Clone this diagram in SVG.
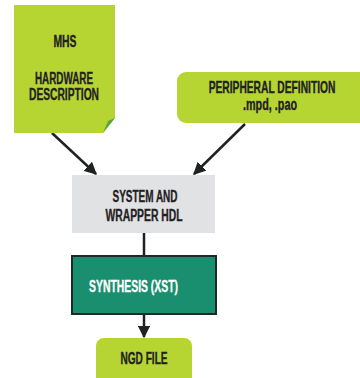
<svg xmlns="http://www.w3.org/2000/svg" width="360" height="378" viewBox="0 0 360 378">
<defs>
<style>
.t{font-family:"Liberation Sans","DejaVu Sans",sans-serif;font-weight:bold;font-size:16px;fill:#1f2122;stroke:#1f2122;stroke-width:0.35;text-anchor:middle}
.w{fill:#ffffff;stroke:#ffffff}
.c{stroke:#1f2122;stroke-width:2.5;fill:none}
</style>
<marker id="ah" viewBox="0 0 10 10" refX="9" refY="5" markerWidth="5" markerHeight="5" orient="auto" markerUnits="strokeWidth">
<path d="M0,0 L10,5 L0,10 z" fill="#1f2122"/>
</marker>
</defs>
<rect width="360" height="378" fill="#ffffff"/>
<g id="connectors">
<line class="c" x1="52" y1="133" x2="96" y2="174" marker-end="url(#ah)"/>
<line class="c" x1="245" y1="124" x2="194" y2="174" marker-end="url(#ah)"/>
<line class="c" x1="144" y1="233" x2="144" y2="256"/>
<line class="c" x1="144" y1="314" x2="144" y2="337" marker-end="url(#ah)"/>
</g>
<g id="mhs">
<path d="M14,5 H115 V118 L103,133 H14 Z" fill="#b6d432"/>
<path d="M103,133 L115,118 L108,121 Z" fill="#55a83a"/>
<text class="t" x="65" y="47" textLength="23" lengthAdjust="spacingAndGlyphs">MHS</text>
<text class="t" x="64" y="84" textLength="58" lengthAdjust="spacingAndGlyphs">HARDWARE</text>
<text class="t" x="64" y="100" textLength="70" lengthAdjust="spacingAndGlyphs">DESCRIPTION</text>
</g>
<g id="peripheral">
<path d="M360,72 H186 A9,9 0 0 0 177,81 V114 A9,9 0 0 0 186,123 H360 Z" fill="#b6d432"/>
<g transform="translate(272,93) scale(0.65,1)">
<text class="t" x="0" y="0" textLength="195" lengthAdjust="spacingAndGlyphs">PERIPHERAL DEFINITION</text>
</g>
<text class="t" x="270" y="110" textLength="54" lengthAdjust="spacingAndGlyphs">.mpd, .pao</text>
</g>
<g id="system">
<rect x="72" y="175" width="143" height="58" fill="#e1e2e4"/>
<text class="t" x="145" y="202" textLength="65" lengthAdjust="spacingAndGlyphs">SYSTEM AND</text>
<text class="t" x="144" y="221" textLength="77" lengthAdjust="spacingAndGlyphs">WRAPPER HDL</text>
</g>
<g id="synthesis">
<rect x="72" y="256" width="144" height="58" fill="#1a8f6f" stroke="#1f2a28" stroke-width="2"/>
<text class="t w" x="133.5" y="292" textLength="89" lengthAdjust="spacingAndGlyphs">SYNTHESIS (XST)</text>
</g>
<g id="ngd">
<path d="M96,378 V346 A8,8 0 0 1 104,338 H184 A8,8 0 0 1 192,346 V378 Z" fill="#b6d432"/>
<text class="t" x="144" y="364" textLength="47" lengthAdjust="spacingAndGlyphs">NGD FILE</text>
</g>
</svg>
